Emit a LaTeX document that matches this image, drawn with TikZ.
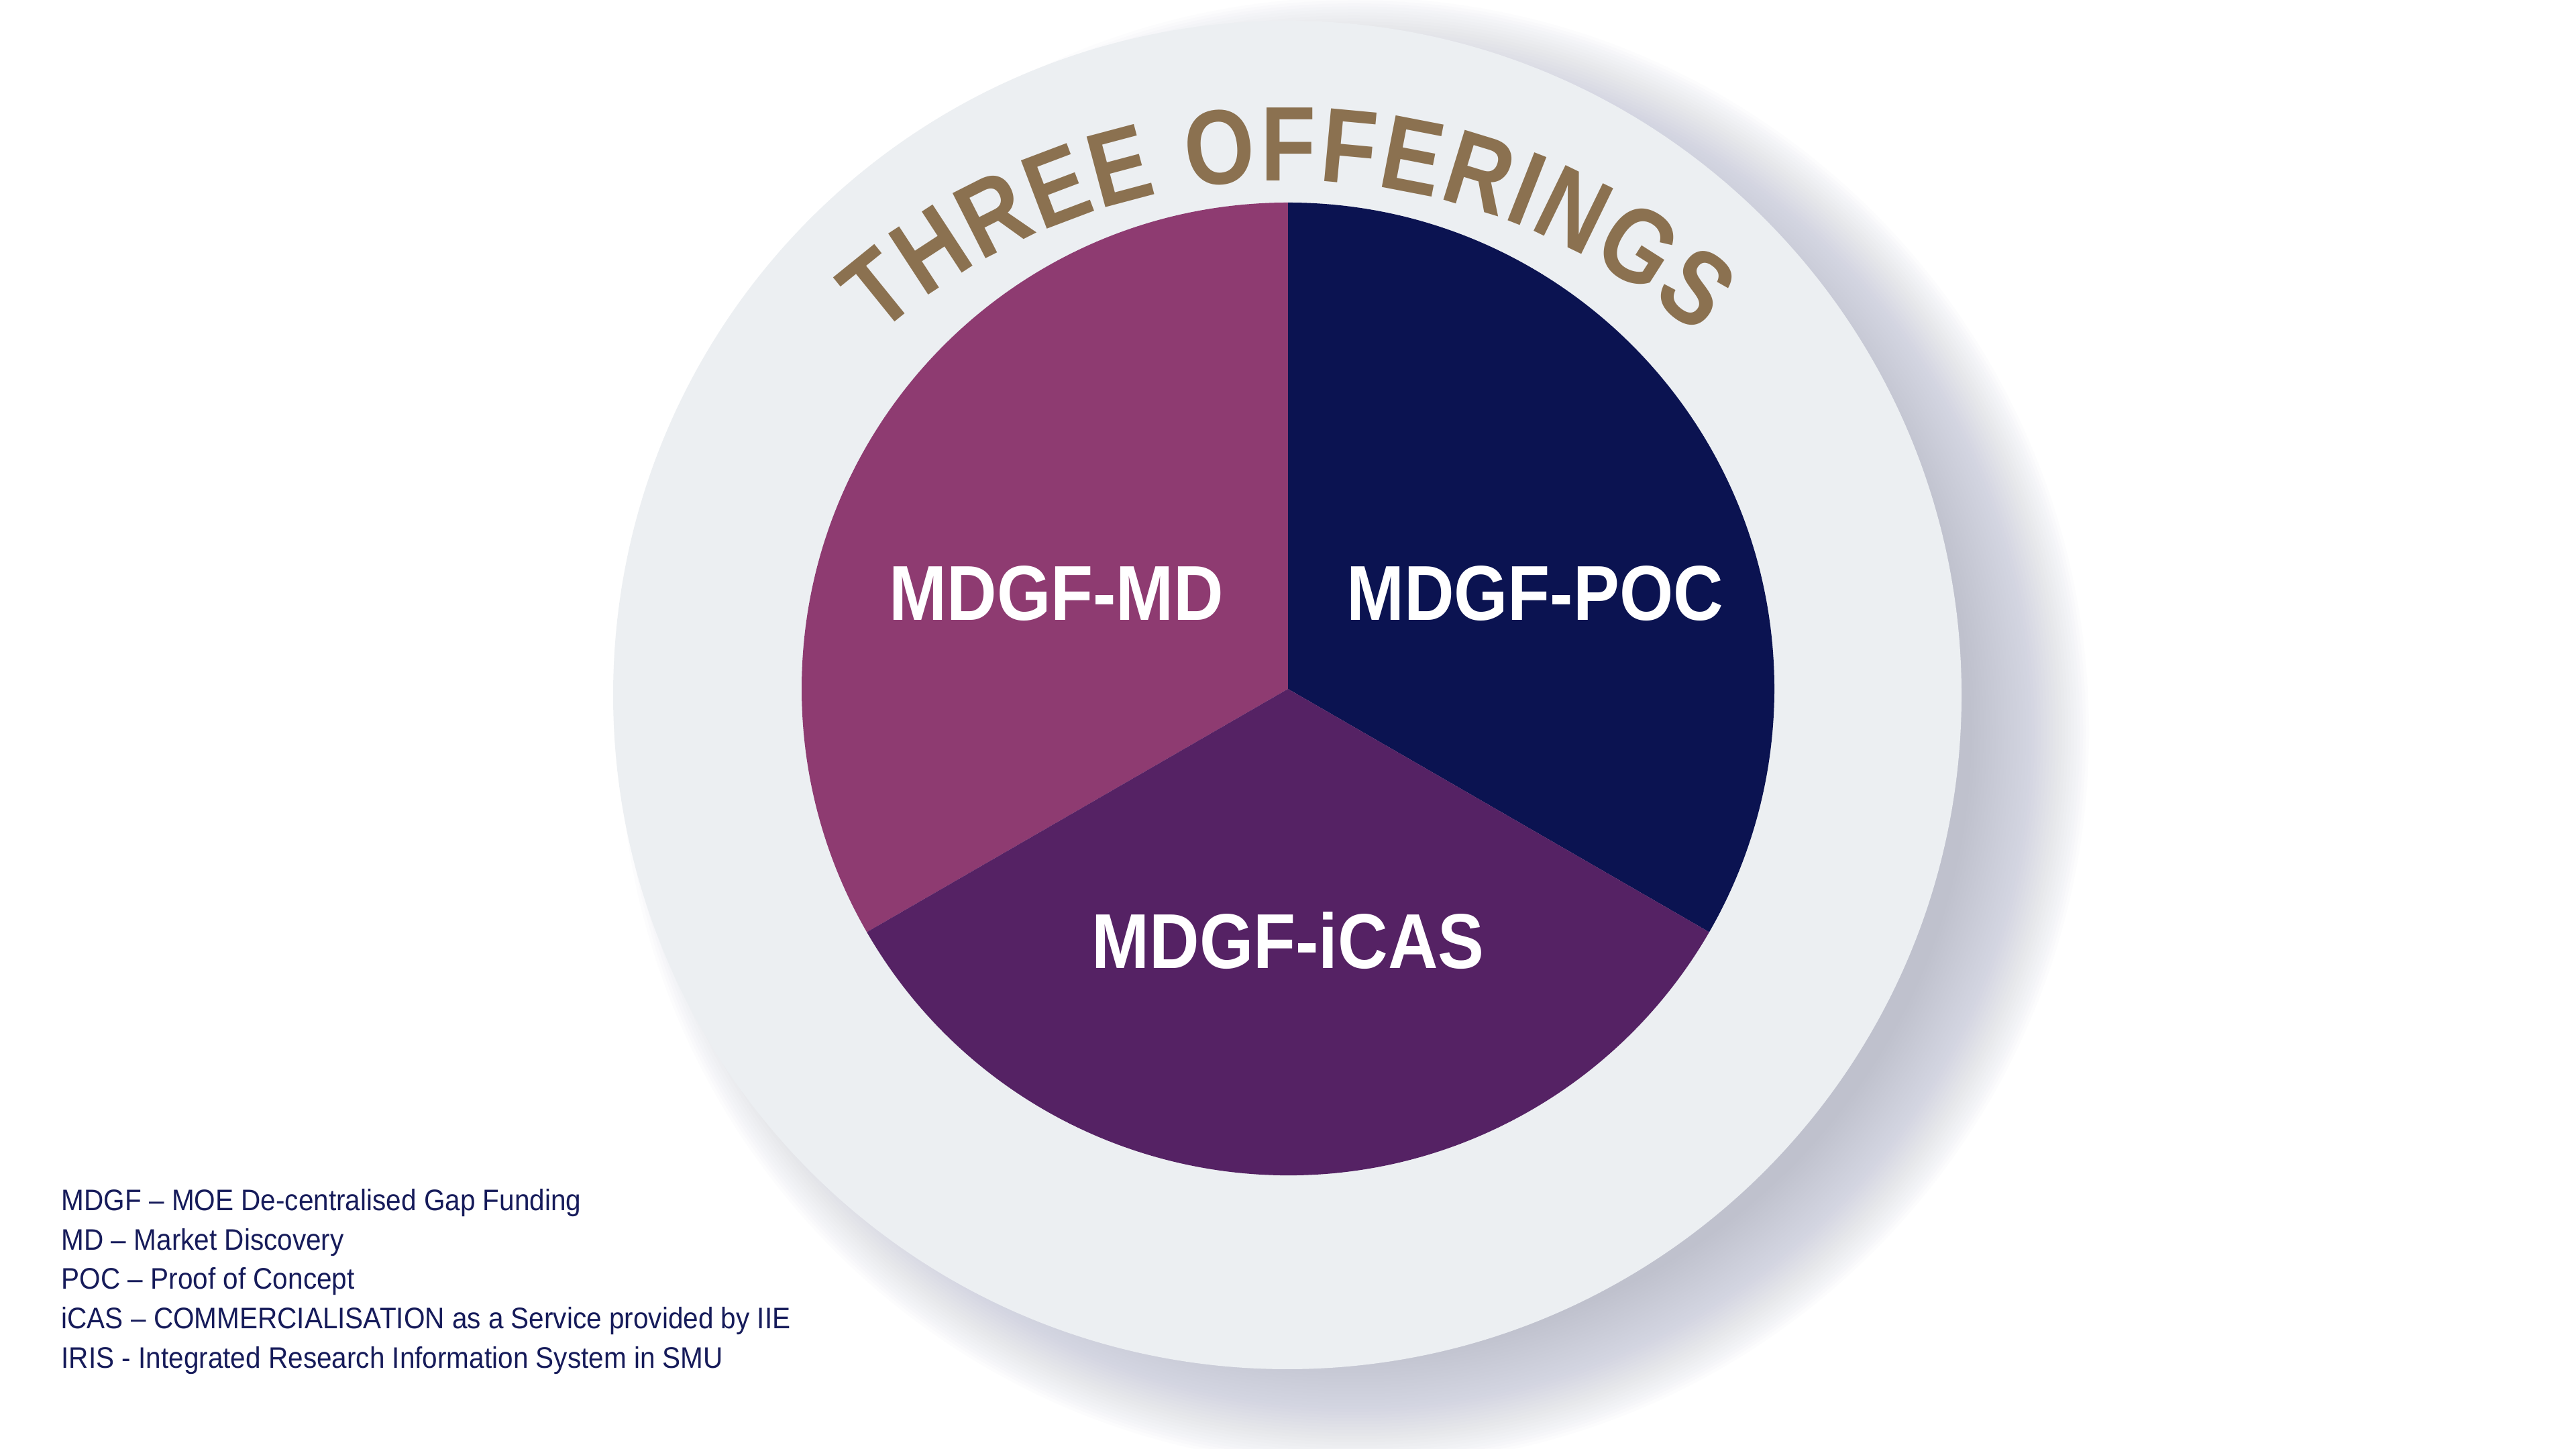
\documentclass[tikz,border=0pt]{standalone}
\usepackage{fontspec}
\setmainfont{Liberation Sans}
\newfontfamily\labelfont[FakeStretch=0.89]{Liberation Sans}
\newfontfamily\legendfont[FakeStretch=0.915]{Liberation Sans}
\newfontfamily\titlefont[FakeStretch=0.85]{Liberation Sans}
\usetikzlibrary{decorations.text}
\definecolor{mdc}{HTML}{8E3B71}
\definecolor{pocc}{HTML}{0B1351}
\definecolor{icasc}{HTML}{552264}
\definecolor{ringc}{HTML}{ECEFF2}
\definecolor{shadowc}{HTML}{B4B8CC}
\definecolor{titlec}{HTML}{8B7150}
\definecolor{legendc}{HTML}{161B5A}
\tikzset{
  slicelabel/.style={text=white, font=\labelfont\bfseries\fontsize{33}{36}\selectfont, inner sep=0pt, anchor=base},
  legendline/.style={text=legendc, font=\legendfont\fontsize{12.6}{15}\selectfont, inner sep=0pt, anchor=base west}
}
\begin{document}
\begin{tikzpicture}
\useasboundingbox (0,0) rectangle (38.4,21.6);
\fill[white] (0,0) rectangle (38.4,21.6);
% soft shadow of the ring
\coordinate (sc) at (20.19,10.69);
\foreach \i in {0,...,39} \fill[shadowc, opacity=0.03] (sc) circle ({10.05+0.9-\i*0.045});
% ring
\coordinate (oc) at (19.19,11.24);
\fill[ringc] (oc) circle (10.05);
% pie
\coordinate (pc) at (19.20,11.33);
\fill[mdc] (pc) -- ++(90:7.25) arc[start angle=90, end angle=210, radius=7.25] -- cycle;
\fill[pocc] (pc) -- ++(90:7.25) arc[start angle=90, end angle=-30, radius=7.25] -- cycle;
\fill[icasc] (pc) -- ++(210:7.25) arc[start angle=210, end angle=330, radius=7.25] -- cycle;
% slice labels
\node[slicelabel] (md) at (15.75,12.35) {MDGF-MD};
\node[slicelabel] (poc) at (22.88,12.35) {MDGF-POC};
\node[slicelabel] (icas) at (19.20,7.16) {MDGF-iCAS};
% title on arc
\coordinate (tc) at (19.20,9.71);
\path[decorate, decoration={text along path, text color=titlec,
  text={|\titlefont\bfseries\fontsize{45}{45}\selectfont|THREE OFFERINGS},
  text align=fit to path}]
  (tc) ++(131.5:9.2) arc[start angle=131.5, end angle=48.5, radius=9.2];
% legend
\node[legendline] (l1) at (0.91,3.55) {MDGF – MOE De-centralised Gap Funding};
\node[legendline] (l2) at (0.91,2.96) {MD – Market Discovery};
\node[legendline] (l3) at (0.91,2.38) {POC – Proof of Concept};
\node[legendline] (l4) at (0.91,1.79) {iCAS – COMMERCIALISATION as a Service provided by IIE};
\node[legendline] (l5) at (0.91,1.20) {IRIS - Integrated Research Information System in SMU};
\end{tikzpicture}
\end{document}
